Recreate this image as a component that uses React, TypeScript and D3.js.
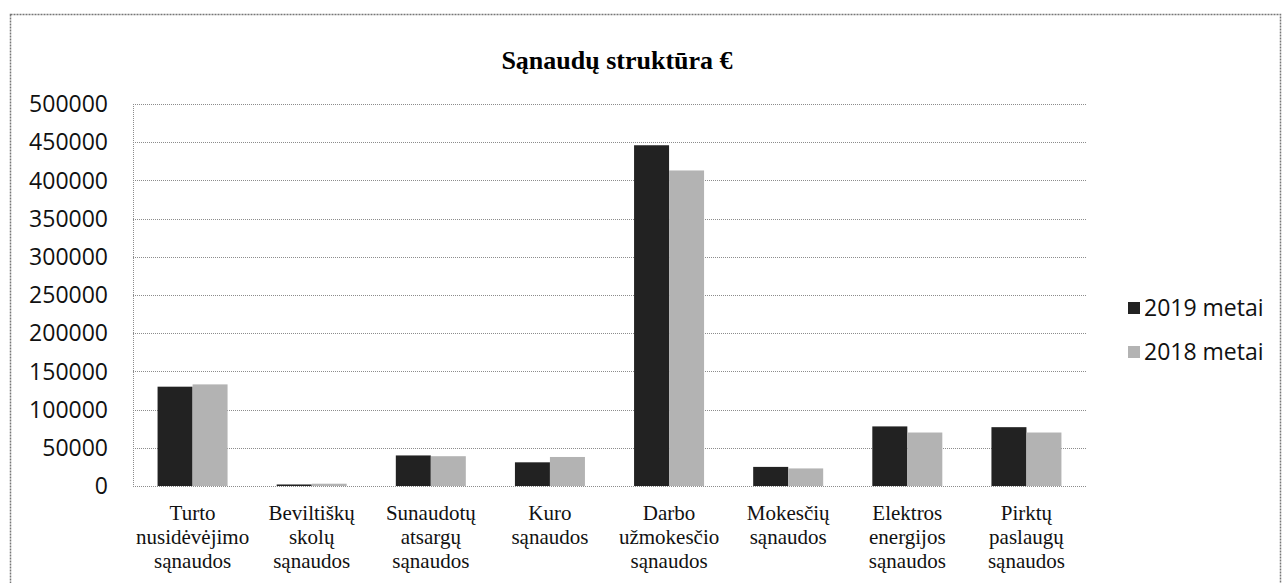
import React, { useEffect, useRef } from "react";
import * as d3 from "d3";

const categories = [
  ["Turto", "nusidėvėjimo", "sąnaudos"],
  ["Beviltiškų", "skolų", "sąnaudos"],
  ["Sunaudotų", "atsargų", "sąnaudos"],
  ["Kuro", "sąnaudos"],
  ["Darbo", "užmokesčio", "sąnaudos"],
  ["Mokesčių", "sąnaudos"],
  ["Elektros", "energijos", "sąnaudos"],
  ["Pirktų", "paslaugų", "sąnaudos"],
];
const values2019 = [130000, 2000, 40000, 31000, 446000, 25000, 78000, 77000];
const values2018 = [133000, 3000, 39000, 38000, 413000, 23000, 70000, 70000];
const yTicks = [0, 50000, 100000, 150000, 200000, 250000, 300000, 350000, 400000, 450000, 500000];
const seriesNames = ["2019 metai", "2018 metai"];
const seriesColors = ["#222222", "#b3b3b3"];

const width = 1285;
const height = 583;
const marginLeft = 133;
const marginRight = 199;
const marginTop = 104;
const marginBottom = 97;

const App = () => {
  const svgRef = useRef<SVGSVGElement | null>(null);

  useEffect(() => {
    const svg = d3.select(svgRef.current);
    svg.selectAll("*").remove();

    const x = d3
      .scaleBand<number>()
      .domain(categories.map((_, i) => i))
      .range([marginLeft, width - marginRight])
      .padding(0);

    const y = d3
      .scaleLinear()
      .domain([0, 500000])
      .range([height - marginBottom, marginTop]);

    const barW = 35;

    // outer frame
    svg
      .append("rect")
      .attr("x", 10.5)
      .attr("y", 14.5)
      .attr("width", 1270)
      .attr("height", 600)
      .attr("fill", "white")
      .attr("stroke", "#777")
      .attr("stroke-width", 1.5)
      .attr("stroke-dasharray", "2,1");

    // title
    svg
      .append("text")
      .attr("x", 617)
      .attr("y", 69)
      .attr("text-anchor", "middle")
      .style("font-family", "Liberation Serif")
      .style("font-weight", "bold")
      .style("font-size", "26px")
      .text("Sąnaudų struktūra €");

    // gridlines
    svg
      .append("g")
      .selectAll("line")
      .data(yTicks)
      .enter()
      .append("line")
      .attr("x1", marginLeft)
      .attr("x2", width - marginRight)
      .attr("y1", (d) => Math.round(y(d)) + 0.5)
      .attr("y2", (d) => Math.round(y(d)) + 0.5)
      .attr("stroke", "#8c8c8c")
      .attr("stroke-dasharray", "1,1");

    // left axis line
    svg
      .append("line")
      .attr("x1", marginLeft + 0.5)
      .attr("x2", marginLeft + 0.5)
      .attr("y1", y(500000))
      .attr("y2", y(0))
      .attr("stroke", "#8c8c8c")
      .attr("stroke-dasharray", "1,1");

    // y tick labels
    svg
      .append("g")
      .selectAll("text")
      .data(yTicks)
      .enter()
      .append("text")
      .attr("x", 108)
      .attr("y", (d) => y(d))
      .attr("dy", "0.36em")
      .attr("text-anchor", "end")
      .style("font-family", "Open Sans")
      .style("font-size", "23px")
      .style("fill", "#111")
      .text((d) => String(d));

    // bars
    const series = [values2019, values2018];
    series.forEach((vals, s) => {
      svg
        .append("g")
        .selectAll("rect")
        .data(vals)
        .enter()
        .append("rect")
        .attr("x", (_, i) => x(i)! + x.bandwidth() / 2 - barW + s * barW)
        .attr("y", (d) => y(d))
        .attr("width", barW)
        .attr("height", (d) => y(0) - y(d))
        .attr("fill", seriesColors[s]);
    });

    // category labels
    const labels = svg
      .append("g")
      .selectAll("text")
      .data(categories)
      .enter()
      .append("text")
      .attr("x", (_, i) => x(i)! + x.bandwidth() / 2)
      .attr("y", 520)
      .attr("text-anchor", "middle")
      .style("font-family", "Liberation Serif")
      .style("font-size", "21px")
      .style("fill", "#111");

    labels
      .selectAll("tspan")
      .data((d) => d)
      .enter()
      .append("tspan")
      .attr("x", function () {
        return (this.parentNode as SVGTextElement).getAttribute("x");
      })
      .attr("dy", (_, j) => (j === 0 ? 0 : 24))
      .text((d) => d);

    // legend
    const legend = svg
      .append("g")
      .selectAll("g")
      .data(seriesNames)
      .enter()
      .append("g")
      .attr("transform", (_, i) => `translate(1128,${308 + i * 44})`);

    legend
      .append("rect")
      .attr("x", 0)
      .attr("y", -6)
      .attr("width", 12)
      .attr("height", 12)
      .attr("fill", (_, i) => seriesColors[i]);

    legend
      .append("text")
      .attr("x", 16)
      .attr("y", 0)
      .attr("dy", "0.36em")
      .style("font-family", "Open Sans")
      .style("font-size", "23px")
      .style("fill", "#111")
      .text((d) => d);
  }, []);

  return (
    <svg
      width={width}
      height={height}
      ref={svgRef}
      style={{ position: "absolute", left: 0, top: 0, background: "white" }}
    ></svg>
  );
};

export default App;
